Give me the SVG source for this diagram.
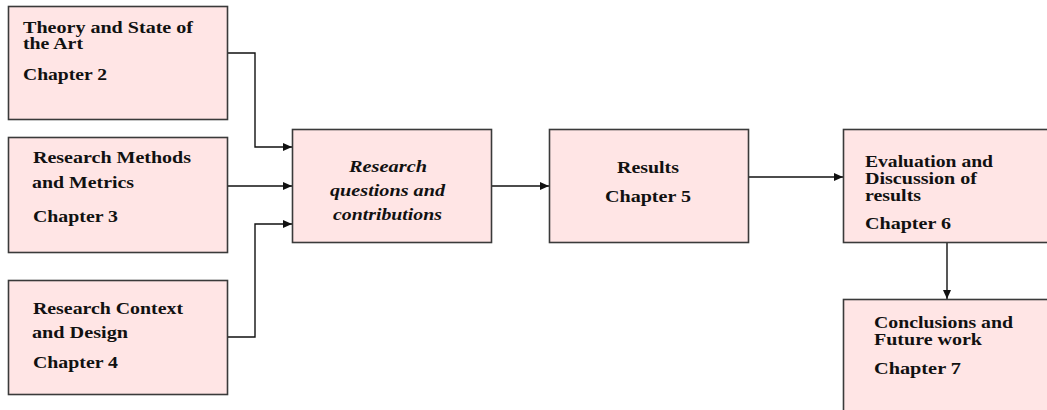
<svg xmlns="http://www.w3.org/2000/svg" width="1047" height="410" viewBox="0 0 1047 410">
  <style>
    .box { fill: #ffe5e5; stroke: #3a3a3a; stroke-width: 1.6; }
    .lbl { font-family: "Liberation Serif", "Times New Roman", serif; font-size: 17px; font-weight: bold; fill: #111; }
    .tight { font-size: 16px; }
    .it { font-style: italic; }
    .link { fill: none; stroke: #111; stroke-width: 1.4; marker-end: url(#arrow); }
  </style>
  <defs>
    <marker id="arrow" markerUnits="userSpaceOnUse" markerWidth="10" markerHeight="8" refX="9" refY="4" orient="auto">
      <path d="M0,0 L9,4 L0,8 Z" fill="#111"/>
    </marker>
  </defs>

  <rect width="1047" height="410" fill="#ffffff"/>

  <g id="connectors">
    <path class="link" d="M227,53 H255 V147 H292"/>
    <path class="link" d="M227,186 H292"/>
    <path class="link" d="M227,337 H255 V224 H292"/>
    <path class="link" d="M491,186 H549"/>
    <path class="link" d="M748,177 H843"/>
    <path class="link" d="M947,242 V299"/>
  </g>

  <g id="theory">
    <rect class="box" x="8.5" y="6.5" width="219" height="113"/>
    <text class="lbl tight" x="23" y="33" textLength="170" lengthAdjust="spacingAndGlyphs">Theory and State of</text>
    <text class="lbl tight" x="23" y="49" textLength="60" lengthAdjust="spacingAndGlyphs">the Art</text>
    <text class="lbl" x="23" y="80" textLength="84" lengthAdjust="spacingAndGlyphs">Chapter 2</text>
  </g>

  <g id="methods">
    <rect class="box" x="8.5" y="137.5" width="219" height="115"/>
    <text class="lbl" x="33" y="163" textLength="158" lengthAdjust="spacingAndGlyphs">Research Methods</text>
    <text class="lbl" x="32" y="188" textLength="102" lengthAdjust="spacingAndGlyphs">and Metrics</text>
    <text class="lbl" x="33" y="222" textLength="85" lengthAdjust="spacingAndGlyphs">Chapter 3</text>
  </g>

  <g id="context">
    <rect class="box" x="8.5" y="280.5" width="219" height="114"/>
    <text class="lbl" x="33" y="314" textLength="150" lengthAdjust="spacingAndGlyphs">Research Context</text>
    <text class="lbl" x="32" y="338" textLength="96" lengthAdjust="spacingAndGlyphs">and Design</text>
    <text class="lbl" x="33" y="368" textLength="85" lengthAdjust="spacingAndGlyphs">Chapter 4</text>
  </g>

  <g id="questions">
    <rect class="box" x="292.5" y="129.5" width="199" height="113"/>
    <text class="lbl it" x="349" y="172" textLength="78" lengthAdjust="spacingAndGlyphs">Research</text>
    <text class="lbl it" x="330" y="196" textLength="115" lengthAdjust="spacingAndGlyphs">questions and</text>
    <text class="lbl it" x="333" y="220" textLength="109" lengthAdjust="spacingAndGlyphs">contributions</text>
  </g>

  <g id="results">
    <rect class="box" x="549.5" y="129.5" width="199" height="113"/>
    <text class="lbl" x="617" y="173" textLength="62" lengthAdjust="spacingAndGlyphs">Results</text>
    <text class="lbl" x="605" y="202" textLength="86" lengthAdjust="spacingAndGlyphs">Chapter 5</text>
  </g>

  <g id="evaluation">
    <rect class="box" x="843.5" y="129.5" width="220" height="113"/>
    <text class="lbl tight" x="865" y="167" textLength="128" lengthAdjust="spacingAndGlyphs">Evaluation and</text>
    <text class="lbl tight" x="865" y="184" textLength="112" lengthAdjust="spacingAndGlyphs">Discussion of</text>
    <text class="lbl tight" x="865" y="201" textLength="56" lengthAdjust="spacingAndGlyphs">results</text>
    <text class="lbl" x="865" y="229" textLength="86" lengthAdjust="spacingAndGlyphs">Chapter 6</text>
  </g>

  <g id="conclusions">
    <rect class="box" x="843.5" y="299.5" width="220" height="130"/>
    <text class="lbl tight" x="874" y="328" textLength="139" lengthAdjust="spacingAndGlyphs">Conclusions and</text>
    <text class="lbl tight" x="874" y="345" textLength="108" lengthAdjust="spacingAndGlyphs">Future work</text>
    <text class="lbl" x="874" y="374" textLength="87" lengthAdjust="spacingAndGlyphs">Chapter 7</text>
  </g>
</svg>
